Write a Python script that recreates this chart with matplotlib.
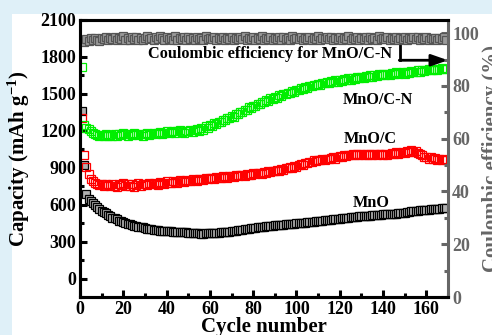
import numpy as np
import matplotlib.pyplot as plt
from matplotlib.patches import Rectangle
from matplotlib.ticker import MultipleLocator

plt.rcParams['font.family'] = ['Liberation Serif', 'DejaVu Serif']
plt.rcParams['font.weight'] = 'bold'
plt.rcParams['mathtext.fontset'] = 'custom'
plt.rcParams['mathtext.rm'] = 'Liberation Serif:bold'
plt.rcParams['mathtext.default'] = 'rm'

# capacity data (mAh/g), one value per cycle
mnocn = [1718, 1245, 1225, 1215, 1200, 1185, 1170, 1165, 1160, 1165,
         1160, 1170, 1155, 1165, 1160, 1175, 1160, 1170, 1165, 1180,
         1170, 1160, 1175, 1165, 1180, 1170, 1165, 1175, 1160, 1170,
         1180, 1165, 1175, 1185, 1170, 1180, 1190, 1175, 1185, 1195,
         1180, 1190, 1200, 1185, 1195, 1205, 1190, 1185, 1200, 1195,
         1210, 1190, 1205, 1215, 1200, 1220, 1210, 1235, 1225, 1245,
         1240, 1260, 1255, 1275, 1270, 1290, 1285, 1305, 1300, 1320,
         1315, 1340, 1335, 1355, 1350, 1370, 1365, 1390, 1385, 1405,
         1400, 1420, 1415, 1435, 1430, 1450, 1445, 1465, 1460, 1475,
         1470, 1490, 1485, 1500, 1495, 1510, 1505, 1520, 1515, 1535,
         1530, 1545, 1540, 1555, 1550, 1565, 1560, 1575, 1570, 1580,
         1575, 1590, 1585, 1600, 1590, 1605, 1595, 1610, 1600, 1615,
         1605, 1620, 1610, 1625, 1615, 1630, 1620, 1635, 1625, 1640,
         1630, 1645, 1635, 1650, 1640, 1655, 1645, 1660, 1650, 1660,
         1655, 1665, 1655, 1670, 1660, 1675, 1665, 1670, 1675, 1665,
         1680, 1670, 1685, 1675, 1680, 1690, 1680, 1695, 1685, 1690,
         1700, 1690, 1695, 1705, 1695, 1700, 1710, 1700, 1705]

mnoc = [1300, 1000, 905, 850, 810, 790, 776, 770, 760, 765,
        755, 770, 760, 750, 765, 755, 745, 770, 760, 775,
        750, 765, 755, 770, 745, 760, 775, 755, 765, 770,
        760, 775, 765, 780, 770, 760, 785, 775, 770, 790,
        780, 775, 795, 785, 780, 800, 790, 785, 800, 795,
        790, 805, 800, 795, 810, 805, 800, 815, 810, 820,
        815, 810, 825, 820, 815, 830, 825, 820, 835, 830,
        825, 840, 835, 845, 840, 835, 850, 845, 840, 855,
        850, 860, 855, 850, 865, 860, 870, 865, 875, 870,
        880, 875, 890, 885, 895, 900, 905, 900, 915, 910,
        920, 930, 925, 940, 935, 950, 945, 960, 955, 965,
        960, 970, 965, 975, 970, 980, 990, 975, 985, 995,
        990, 1000, 995, 1005, 1000, 1010, 1000, 1015, 1005, 1010,
        1000, 1010, 1005, 1015, 1000, 1010, 1005, 1015, 1010, 1005,
        1015, 1005, 1010, 1020, 1010, 1025, 1015, 1020, 1030, 1020,
        1035, 1025, 1040, 1030, 1035, 1020, 1010, 1000, 990, 985,
        975, 990, 970, 980, 965, 975, 960, 970, 960]

mno = [1360, 920, 690, 650, 630, 610, 595, 580, 565, 550,
       540, 530, 515, 505, 495, 490, 480, 470, 465, 458,
       450, 445, 440, 435, 430, 425, 420, 418, 415, 410,
       405, 402, 400, 398, 395, 392, 390, 388, 386, 385,
       384, 383, 382, 381, 380, 378, 376, 375, 374, 372,
       370, 369, 368, 367, 366, 365, 365, 366, 367, 368,
       369, 370, 371, 372, 374, 376, 378, 380, 382, 385,
       388, 390, 392, 395, 398, 400, 402, 405, 408, 410,
       412, 415, 418, 420, 422, 424, 426, 428, 430, 432,
       433, 434, 436, 438, 440, 441, 442, 444, 446, 448,
       449, 450, 452, 454, 456, 458, 460, 462, 464, 466,
       468, 470, 472, 474, 476, 478, 480, 482, 484, 486,
       488, 490, 492, 494, 496, 498, 500, 502, 504, 505,
       506, 508, 510, 512, 514, 515, 516, 518, 520, 521,
       522, 523, 524, 525, 526, 528, 530, 532, 534, 536,
       538, 540, 545, 548, 550, 552, 554, 555, 556, 558,
       560, 562, 563, 564, 566, 568, 569, 570, 572]

# coulombic efficiency of MnO/C-N (%)
ce = [97.5, 96.8, 97.9, 97.2, 98.1, 97.4, 98.3, 97.6, 97.0, 98.2,
      97.8, 98.5, 97.3, 98.0, 97.7, 98.6, 97.5, 98.2, 97.9, 98.8,
      97.4, 98.1, 97.6, 98.4, 97.9, 98.7, 97.3, 98.0, 97.6, 98.3,
      98.9, 97.7, 98.2, 97.5, 98.6, 97.8, 99.1, 98.0, 97.4, 98.5,
      97.9, 98.3, 97.6, 98.8, 97.5, 98.2, 97.8, 98.6, 97.3, 98.4,
      97.9, 98.1, 97.6, 98.7, 97.8, 98.3, 97.5, 98.9, 97.7, 98.2,
      97.9, 98.5, 97.4, 98.1, 97.8, 98.6, 97.6, 98.3, 97.9, 98.7,
      97.5, 98.2, 97.7, 98.4, 97.9, 98.8, 97.3, 98.0, 97.8, 98.5,
      97.6, 98.3, 97.9, 98.9, 97.5, 98.1, 97.7, 98.6, 97.4, 98.2,
      97.9, 98.4, 97.6, 98.7, 97.8, 98.2, 97.5, 99.0, 97.7, 98.3,
      97.9, 98.6, 97.4, 98.1, 97.8, 98.5, 97.6, 98.3, 97.9, 98.8,
      97.5, 98.2, 97.7, 98.4, 97.9, 98.6, 97.3, 98.0, 97.8, 98.5,
      97.6, 98.3, 97.9, 98.9, 97.5, 98.1, 97.7, 98.6, 97.4, 98.2,
      97.9, 98.4, 97.6, 98.7, 97.8, 98.2, 97.5, 98.8, 97.7, 98.3,
      97.9, 98.5, 97.4, 98.1, 97.8, 98.6, 97.6, 98.3, 97.9, 98.7,
      97.5, 98.2, 97.7, 98.4, 97.9, 98.6, 97.3, 98.0, 97.8, 98.5,
      97.6, 98.3, 97.9, 98.2, 97.5, 98.1, 97.7, 98.4, 97.6]

cycles = np.arange(1, len(mno) + 1)

fig = plt.figure(figsize=(4.92, 3.35), dpi=100)
fig.patch.set_facecolor('#dff0f8')
fig.patches.append(Rectangle((12 / 492, 0), 1, 1 - 14 / 335, transform=fig.transFigure,
                             facecolor='white', edgecolor='none', zorder=-5))

ax = fig.add_axes([80 / 492, 1 - 297 / 335, 368 / 492, 277 / 335])
ax2 = ax.twinx()
ax2.patch.set_visible(False)

ms = 5.2
ax.plot(cycles, mno, 's', ms=ms, mfc='#b0b0b0', mec='black', mew=0.9)
ax.plot(cycles, mnoc, 's', ms=ms, mfc='none', mec='#ff0000', mew=0.9)
ax.plot(cycles, mnocn, 's', ms=ms, mfc='none', mec='#00ee00', mew=0.9)
ax2.plot(cycles, ce, 's', ms=ms, mfc='#9a9a9a', mec='#555555', mew=0.9)

ax.set_xlim(0, 170)
ax.set_ylim(-150, 2100)
ax2.set_ylim(0, 105)

ax.xaxis.set_major_locator(MultipleLocator(20))
ax.xaxis.set_minor_locator(MultipleLocator(10))
ax.yaxis.set_major_locator(MultipleLocator(300))
ax.yaxis.set_minor_locator(MultipleLocator(150))
ax2.yaxis.set_major_locator(MultipleLocator(20))
ax2.yaxis.set_minor_locator(MultipleLocator(10))

for a in (ax, ax2):
    for s in a.spines.values():
        s.set_linewidth(2.2)
ax2.spines['right'].set_color('#666666')
ax.spines['right'].set_visible(False)

ax.tick_params(axis='both', which='major', direction='in', length=5, width=2.2,
               labelsize=13, pad=3)
ax.tick_params(axis='both', which='minor', direction='in', length=3, width=2.2)
ax.tick_params(axis='y', left=True, right=False)
ax2.tick_params(axis='y', which='major', direction='in', length=5, width=2.2,
                colors='#666666', labelsize=13, pad=3)
ax2.tick_params(axis='y', which='minor', direction='in', length=3, width=2.2,
                colors='#666666')

ax.set_xlabel('Cycle number', fontsize=15, fontweight='bold', labelpad=-1)
ax.set_ylabel('Capacity (mAh g$^{-1}$)', fontsize=15, fontweight='bold', labelpad=6)
ax2.set_ylabel('Coulombic efficiency (%)', fontsize=15, fontweight='bold',
               color='#666666', rotation=90, labelpad=2)

ax.text(31.5, 1822, 'Coulombic efficiency for MnO/C-N', fontsize=11.7,
        fontweight='bold', va='center')
ax.text(137.5, 1454, 'MnO/C-N', fontsize=11.7, fontweight='bold', ha='center', va='center')
ax.text(134, 1135, 'MnO/C', fontsize=11.7, fontweight='bold', ha='center', va='center')
ax.text(134.5, 613, 'MnO', fontsize=11.7, fontweight='bold', ha='center', va='center')

# arrow pointing to the right axis
ax.plot([148, 148], [1940, 1773], color='black', lw=2)
ax.annotate('', xy=(170, 1773), xytext=(147.5, 1773),
            arrowprops=dict(arrowstyle='-|>,head_length=1.0,head_width=0.35',
                            color='black', lw=2, shrinkA=0, shrinkB=0))

fig.savefig('out.png', dpi=100, facecolor=fig.get_facecolor())
